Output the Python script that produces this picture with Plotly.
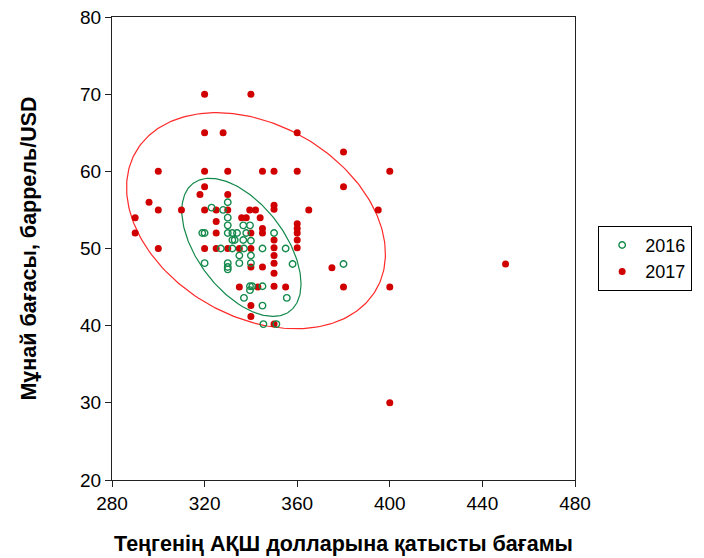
import numpy as np
import plotly.graph_objects as go

# 2016 observations (tenge rate, oil price)
x2016 = [330, 323, 328, 330, 330, 336.7, 339.6,
         319, 320, 330, 332, 334, 338, 350,
         332, 333, 336.7, 340,
         327, 332, 337, 345, 355,
         335, 340, 335, 340, 320, 358,
         330, 330, 330,
         339.6, 340.6, 339.6, 345,
         337, 355.5, 345, 345.4, 351, 380]
y2016 = [56, 55.3, 55, 54, 53, 53, 53,
         52, 52, 52, 52, 52, 52, 52,
         51.1, 51.1, 51.1, 51,
         50, 50, 50, 50, 50,
         49.1, 49.1, 48.1, 48.1, 48.1, 48,
         48.1, 47.6, 47.3,
         45.1, 45.1, 44.6, 45.1,
         43.6, 43.6, 42.6, 40.2, 40.2, 48]

# 2017 observations
x2017 = [320, 340,
         320, 328, 360, 380,
         300, 320, 330, 345, 350, 360, 400,
         380, 320, 318, 330, 296,
         300, 310, 320, 325, 330, 339.5, 342, 350, 350, 365, 395,
         290, 290,
         336, 338, 344, 325,
         360, 360, 360, 360, 360,
         345, 345, 325, 340,
         350, 350, 350, 350, 350, 350, 350,
         300, 320, 325, 330, 335, 340,
         340, 345, 335, 343, 355,
         340, 340,
         375, 380, 400, 450, 400]
y2017 = [70, 70,
         65, 65, 65, 62.5,
         60, 60, 60, 60, 60, 60, 60,
         58, 58, 57, 57, 56,
         55, 55, 55, 55, 55, 55, 55, 55.6, 55.1, 55, 55,
         54, 52,
         54, 54, 54, 53.5,
         53.2, 52.6, 52, 51.1, 50.1,
         52.6, 52, 52, 52,
         51.1, 50.1, 49.1, 48.1, 46.8, 45.1, 40.2,
         50, 50, 50, 50, 50, 50,
         47.6, 47.6, 45, 45, 45,
         42.6, 41.2,
         47.5, 45, 45, 48, 30]

# confidence ellipses: [2016, 2017]
ell_center_x = [335.9, 342.2]
ell_center_y = [50.15, 53.6]
ell_half_width = [25.75, 55.9]    # half extent along x
ell_half_height = [8.95, 14.0]    # half extent along y
ell_cross = [-122.0, -240.0]      # xy term of the shape matrix

RED = "#D00000"
GREEN = "#148A4C"


def ellipse(i, n=240):
    C = np.array([[ell_half_width[i] ** 2, ell_cross[i]],
                  [ell_cross[i], ell_half_height[i] ** 2]])
    vals, vecs = np.linalg.eigh(C)
    t = np.linspace(0, 2 * np.pi, n)
    circ = np.vstack([np.cos(t), np.sin(t)])
    pts = np.array([[ell_center_x[i]], [ell_center_y[i]]]) + vecs @ (np.sqrt(vals)[:, None] * circ)
    return pts[0], pts[1]


ex16, ey16 = ellipse(0)
ex17, ey17 = ellipse(1)

FONT = "Arial, Liberation Sans, sans-serif"

fig = go.Figure()
fig.add_trace(go.Scatter(x=ex17, y=ey17, mode="lines", line=dict(color="#FF2A2A", width=1.2),
                         showlegend=False, hoverinfo="skip"))
fig.add_trace(go.Scatter(x=ex16, y=ey16, mode="lines", line=dict(color=GREEN, width=1.2),
                         showlegend=False, hoverinfo="skip"))
fig.add_trace(go.Scatter(x=x2017, y=y2017, mode="markers", name="2017",
                         marker=dict(color=RED, size=7, line=dict(width=0))))
fig.add_trace(go.Scatter(x=x2016, y=y2016, mode="markers", name="2016",
                         marker=dict(symbol="circle-open", color=GREEN, size=6.5,
                                     line=dict(width=1.4, color=GREEN))))

axis_common = dict(showline=True, linecolor="#222222", linewidth=1, mirror=True,
                   ticks="outside", ticklen=6, tickcolor="#222222", showgrid=False,
                   zeroline=False, ticklabeloverflow="allow", automargin=False,
                   tickfont=dict(family=FONT, size=19, color="black"))

fig.update_layout(
    width=704, height=558,
    margin=dict(l=104, r=137, t=9, b=86),
    paper_bgcolor="white", plot_bgcolor="white",
    font=dict(family=FONT, color="black"),
    xaxis=dict(range=[280, 480], tickvals=[280, 320, 360, 400, 440, 480],
               title=dict(text="<b>Теңгенің АҚШ долларына қатысты бағамы</b>",
                          font=dict(size=21.5), standoff=23),
               **axis_common),
    yaxis=dict(range=[20, 80], tickvals=[20, 30, 40, 50, 60, 70, 80],
               title=dict(text="<b>Мұнай бағасы, баррель/USD</b>",
                          font=dict(size=21.5), standoff=37),
               **axis_common),
    legend=dict(x=1.05, y=0.549, xanchor="left", yanchor="top",
                bordercolor="black", borderwidth=1, traceorder="reversed",
                font=dict(size=18), itemsizing="trace", tracegroupgap=0, itemwidth=36),
)

fig.write_html("out.html")
